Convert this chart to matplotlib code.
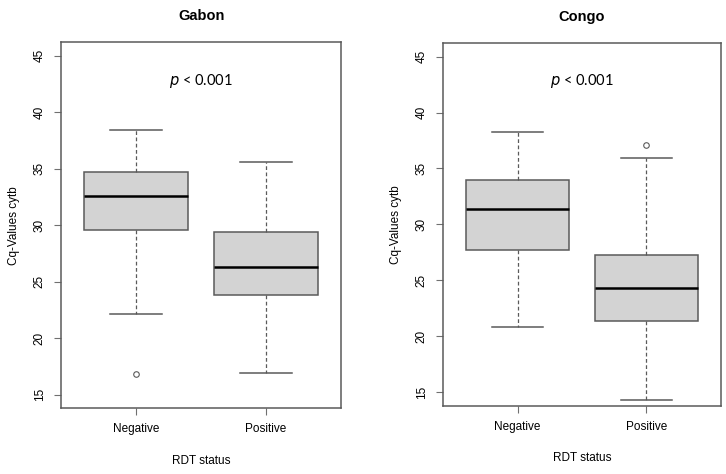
import matplotlib.pyplot as plt

groups = ["Negative", "Positive"]

# Gabon box stats
gabon_whislo = [22.1, 16.95]
gabon_q1 = [29.6, 23.8]
gabon_med = [32.6, 26.3]
gabon_q3 = [34.7, 29.4]
gabon_whishi = [38.4, 35.6]
gabon_fliers = [[16.8], []]

# Congo box stats
congo_whislo = [20.8, 14.35]
congo_q1 = [27.7, 21.35]
congo_med = [31.4, 24.3]
congo_q3 = [34.0, 27.25]
congo_whishi = [38.25, 35.9]
congo_fliers = [[], [37.1]]

yticks = [15, 20, 25, 30, 35, 40, 45]

plt.rcParams['font.family'] = ['Liberation Sans', 'DejaVu Sans']
edge = '#5a5a5a'


def make_stats(lo, q1, med, q3, hi, fl):
    out = []
    for i in range(len(groups)):
        out.append(dict(whislo=lo[i], q1=q1[i], med=med[i], q3=q3[i],
                        whishi=hi[i], fliers=fl[i], label=groups[i]))
    return out


def draw(ax, title, stats):
    ax.bxp(stats, positions=[1, 2], widths=0.8, patch_artist=True,
           boxprops=dict(facecolor='#d3d3d3', edgecolor=edge, linewidth=1.1),
           medianprops=dict(color='black', linewidth=1.8),
           whiskerprops=dict(color=edge, linestyle=(0, (3, 2)), linewidth=0.9),
           capprops=dict(color=edge, linewidth=1.1),
           capwidths=0.4,
           flierprops=dict(marker='o', markersize=4, markerfacecolor='none',
                           markeredgecolor=edge, markeredgewidth=0.8))
    ax.set_xlim(0.42, 2.58)
    ax.set_ylim(13.8, 46.2)
    ax.set_yticks(yticks)
    ax.set_yticklabels([str(t) for t in yticks], rotation=90, va='center')
    ax.set_xticks([1, 2])
    ax.set_xticklabels(groups)
    ax.tick_params(axis='both', labelsize=8.5, length=5, color='#707070',
                   direction='out', pad=6)
    for s in ax.spines.values():
        s.set_color(edge)
        s.set_linewidth(1.1)
    ax.set_title(title, fontsize=10.5, fontweight='bold', pad=16)
    ax.set_xlabel('RDT status', fontsize=8.5, labelpad=14)
    ax.set_ylabel('Cq-Values cytb', fontsize=8.5, labelpad=10)
    ax.text(1.5, 42.8, r'$\it{p}$ < 0.001', ha='center', va='center',
            fontsize=10.5, family=['Lato', 'DejaVu Sans'])


fig = plt.figure(figsize=(7.26, 4.74), dpi=100)
ax1 = fig.add_axes([0.084, 0.139, 0.386, 0.772])
ax2 = fig.add_axes([0.610, 0.144, 0.383, 0.765])

draw(ax1, 'Gabon', make_stats(gabon_whislo, gabon_q1, gabon_med, gabon_q3,
                              gabon_whishi, gabon_fliers))
draw(ax2, 'Congo', make_stats(congo_whislo, congo_q1, congo_med, congo_q3,
                              congo_whishi, congo_fliers))

fig.savefig('out.png', dpi=100)
